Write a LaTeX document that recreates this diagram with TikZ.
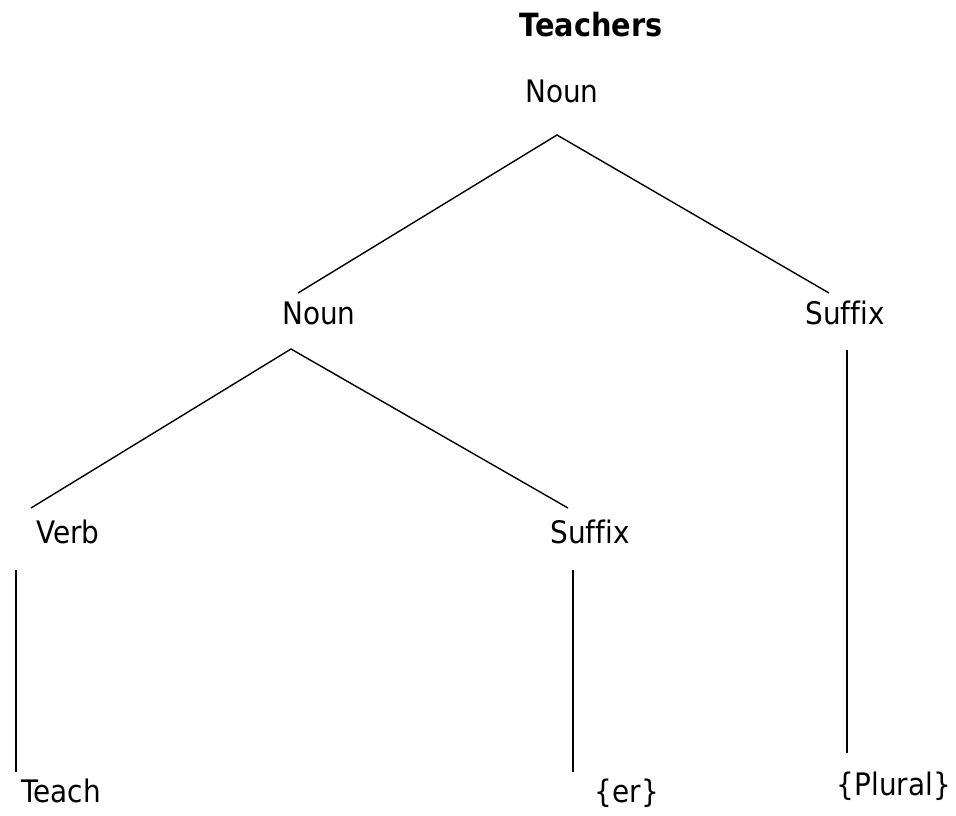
\documentclass[tikz,border=0pt]{standalone}
\usepackage{fontspec}
\setmainfont{DejaVu Sans}[FakeStretch=0.9,Ligatures=NoCommon]
\begin{document}
\begin{tikzpicture}[x=1pt,y=-1pt,
  lbl/.style={anchor=base,inner sep=0pt,font=\fontsize{31}{37}\selectfont},
  ttl/.style={lbl,font=\fontsize{32}{38}\selectfont\bfseries},
  branch/.style={draw=black,line width=1.4pt}]
\useasboundingbox (0,0) rectangle (956,815);

% labels
\node[ttl] (title) at (591,36) {Teachers};
\node[lbl] (root) at (562,102) {Noun};
\node[lbl] (noun) at (319,324) {Noun};
\node[lbl] (sufR) at (845,324) {Suffix};
\node[lbl] (verb) at (68,543) {Verb};
\node[lbl] (sufM) at (590,543) {Suffix};
\node[lbl] (teach) at (61,802) {Teach};
\node[lbl] (er) at (627,802) {\{er\}};
\node[lbl] (plural) at (894,795) {\{Plural\}};

% branch end points
\coordinate (rootFoot) at (557,135);
\coordinate (nounHead) at (298,293);
\coordinate (sufRHead) at (829,293);
\coordinate (nounFoot) at (291,349);
\coordinate (verbHead) at (31,508);
\coordinate (sufMHead) at (568,508);
\coordinate (verbFoot) at (16,570);
\coordinate (teachHead) at (16,772);
\coordinate (sufMFoot) at (573,570);
\coordinate (erHead) at (573,772);
\coordinate (sufRFoot) at (847,350);
\coordinate (pluralHead) at (847,753);

% branches
\draw[branch] (nounHead) -- (rootFoot) -- (sufRHead);
\draw[branch] (verbHead) -- (nounFoot) -- (sufMHead);
\draw[branch] (verbFoot) -- (teachHead);
\draw[branch] (sufMFoot) -- (erHead);
\draw[branch] (sufRFoot) -- (pluralHead);
\end{tikzpicture}
\end{document}
